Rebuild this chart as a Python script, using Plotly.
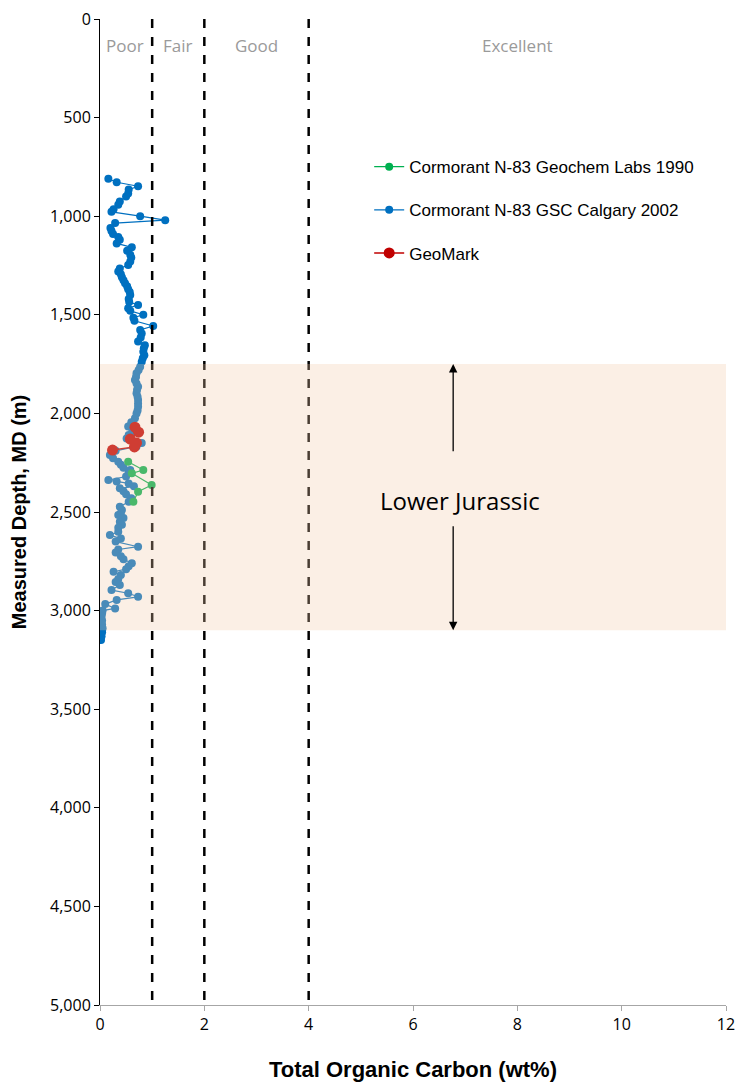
import plotly.graph_objects as go

# ---- data ----
gsc_depth = [810, 828, 848, 865, 885, 900, 925, 942, 965, 978, 1000, 1020, 1035, 1060, 1075, 1090,
             1105, 1120, 1138, 1158, 1175, 1195, 1210, 1230, 1248, 1265, 1280, 1295, 1310, 1325,
             1340, 1355, 1370, 1385, 1400, 1420, 1435, 1450, 1467, 1480, 1500, 1515, 1530, 1557,
             1577, 1595, 1615, 1636, 1655, 1670, 1687, 1705, 1720, 1738, 1763, 1780, 1797, 1815,
             1831, 1848, 1865, 1880, 1898, 1915, 1932, 1950, 1966, 1985, 2000, 2025, 2045, 2067,
             2090, 2110, 2127, 2150, 2168, 2190, 2211, 2228, 2245, 2260, 2275, 2287, 2300, 2320,
             2338, 2345, 2355, 2370, 2380, 2395, 2410, 2430, 2448, 2473, 2490, 2505, 2515, 2530,
             2550, 2565, 2580, 2600, 2617, 2635, 2650, 2676, 2690, 2705, 2725, 2740, 2760, 2775,
             2790, 2803, 2820, 2840, 2855, 2870, 2896, 2912, 2930, 2946, 2967, 2989, 3000, 3015,
             3031, 3050, 3070, 3090, 3110, 3130, 3149]
gsc_toc = [0.16, 0.32, 0.73, 0.55, 0.54, 0.50, 0.38, 0.35, 0.26, 0.22, 0.77, 1.25, 0.29, 0.20, 0.22, 0.25,
           0.35, 0.38, 0.32, 0.61, 0.52, 0.58, 0.60, 0.58, 0.54, 0.38, 0.35, 0.40, 0.42, 0.45,
           0.48, 0.52, 0.54, 0.57, 0.58, 0.55, 0.56, 0.73, 0.54, 0.58, 0.83, 0.64, 0.66, 1.02,
           0.77, 0.80, 0.78, 0.73, 0.86, 0.84, 0.83, 0.85, 0.82, 0.80, 0.77, 0.74, 0.70, 0.69,
           0.67, 0.70, 0.73, 0.71, 0.70, 0.72, 0.73, 0.73, 0.73, 0.72, 0.70, 0.67, 0.60, 0.54,
           0.62, 0.55, 0.51, 0.80, 0.70, 0.30, 0.19, 0.25, 0.35, 0.40, 0.45, 0.58, 0.55, 0.50,
           0.16, 0.32, 0.55, 0.65, 0.38, 0.45, 0.50, 0.60, 0.55, 0.38, 0.42, 0.40, 0.35, 0.45,
           0.38, 0.42, 0.35, 0.35, 0.19, 0.40, 0.30, 0.73, 0.35, 0.30, 0.40, 0.45, 0.61, 0.55,
           0.50, 0.26, 0.40, 0.35, 0.30, 0.38, 0.22, 0.54, 0.73, 0.32, 0.10, 0.29, 0.05, 0.04,
           0.03, 0.04, 0.04, 0.05, 0.04, 0.03, 0.02]

geochem_depth = [2245, 2287, 2304, 2363, 2397, 2448]
geochem_toc = [0.54, 0.83, 0.61, 0.99, 0.73, 0.64]

geomark_depth = [2070, 2095, 2130, 2150, 2170, 2186]
geomark_toc = [0.67, 0.74, 0.58, 0.70, 0.66, 0.24]

class_limits = [1, 2, 4]
class_labels = ["Poor", "Fair", "Good", "Excellent"]
class_label_x = [0.48, 1.5, 3.0, 8.0]

zone_top, zone_base = 1750, 3100
zone_name = "Lower Jurassic"

x_ticks = [0, 2, 4, 6, 8, 10, 12]
y_ticks = [0, 500, 1000, 1500, 2000, 2500, 3000, 3500, 4000, 4500, 5000]

BLUE = "#0070C0"
GREEN = "#00B050"
RED = "#C00000"

fig = go.Figure()

fig.add_trace(go.Scatter(x=gsc_toc, y=gsc_depth, mode="lines+markers",
                         name="Cormorant N-83 GSC Calgary 2002", legendrank=2, legendgroup="b",
                         line=dict(color=BLUE, width=1.2),
                         marker=dict(color=BLUE, size=8)))
fig.add_trace(go.Scatter(x=geochem_toc, y=geochem_depth, mode="lines+markers",
                         name="Cormorant N-83 Geochem Labs 1990", legendrank=1, legendgroup="a",
                         line=dict(color=GREEN, width=1.2),
                         marker=dict(color=GREEN, size=8)))
fig.add_trace(go.Scatter(x=geomark_toc, y=geomark_depth, mode="lines+markers",
                         name="GeoMark", legendrank=3, legendgroup="c",
                         line=dict(color=RED, width=1.5),
                         marker=dict(color=RED, size=11)))

shapes = []
for lim in class_limits:
    shapes.append(dict(type="line", xref="x", yref="y", x0=lim, x1=lim, y0=0, y1=5000,
                       line=dict(color="#000000", width=2.5, dash="dash"), layer="above"))
shapes.append(dict(type="rect", xref="x", yref="y", x0=0, x1=12, y0=zone_top, y1=zone_base,
                   fillcolor="rgba(242,202,168,0.3)", line=dict(width=0), layer="above"))

annotations = []
for lab, lx in zip(class_labels, class_label_x):
    annotations.append(dict(x=lx, y=132, xref="x", yref="y", text=lab, showarrow=False,
                            font=dict(family="Open Sans, Liberation Sans, sans-serif", size=17,
                                      color="#9a9a9a")))
arrow_x = 6.77
annotations.append(dict(x=arrow_x, y=zone_top, ax=arrow_x, ay=2200, xref="x", yref="y",
                        axref="x", ayref="y", text="", showarrow=True, arrowhead=2,
                        arrowsize=1.3, arrowwidth=1.3, arrowcolor="#000000"))
annotations.append(dict(x=arrow_x, y=zone_base, ax=arrow_x, ay=2565, xref="x", yref="y",
                        axref="x", ayref="y", text="", showarrow=True, arrowhead=2,
                        arrowsize=1.3, arrowwidth=1.3, arrowcolor="#000000"))
annotations.append(dict(x=6.9, y=2440, xref="x", yref="y", text=zone_name, showarrow=False,
                        font=dict(family="Open Sans, Liberation Sans, sans-serif", size=24,
                                  color="#000000")))

fig.update_layout(
    width=740, height=1086,
    margin=dict(l=100, r=14, t=19, b=81),
    paper_bgcolor="white", plot_bgcolor="white",
    shapes=shapes, annotations=annotations,
    font=dict(family="Open Sans, Liberation Sans, sans-serif", size=15, color="#000000"),
    legend=dict(x=0.43, y=0.868, xanchor="left", yanchor="top", bgcolor="rgba(0,0,0,0)",
                font=dict(family="Liberation Sans, Arial, sans-serif", size=17),
                tracegroupgap=18, itemwidth=30),
    showlegend=True,
)
fig.update_xaxes(range=[0, 12], tickvals=x_ticks, showgrid=False, zeroline=False,
                 showline=True, linecolor="#a6a6a6", linewidth=1, automargin=False,
                 ticks="outside", ticklen=5, tickcolor="#a6a6a6",
                 tickfont=dict(size=16),
                 title=dict(text="<b>Total Organic Carbon (wt%)</b>", standoff=27,
                            font=dict(family="Liberation Sans, Arial, sans-serif", size=22)))
fig.update_yaxes(range=[5000, 0], tickvals=y_ticks, tickformat=",d", showgrid=False,
                 zeroline=False, showline=True, linecolor="#000000", linewidth=1, automargin=False,
                 ticks="outside", ticklen=5, tickcolor="#000000",
                 tickfont=dict(size=16),
                 title=dict(text="<b>Measured Depth, MD (m)</b>", standoff=18,
                            font=dict(family="Liberation Sans, Arial, sans-serif", size=20)))

fig.write_html("out.html", config={"displayModeBar": False},
               post_script="document.body.style.margin='0';document.body.style.overflow='hidden';")
